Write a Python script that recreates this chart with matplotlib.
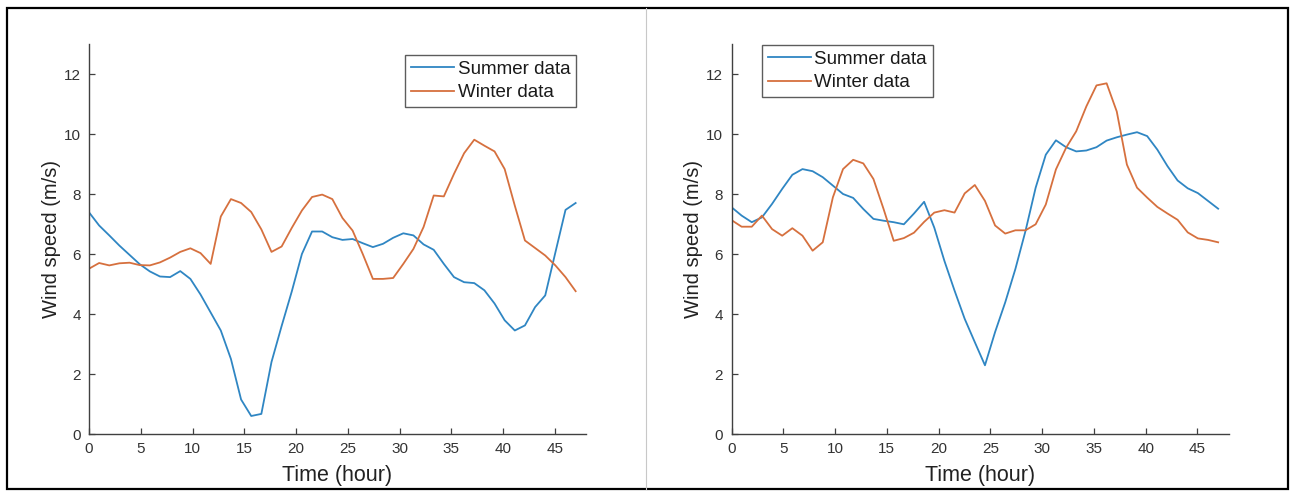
import numpy as np
import matplotlib
matplotlib.use("Agg")
import matplotlib.pyplot as plt
from matplotlib.patches import Rectangle
from matplotlib.lines import Line2D

plt.rcParams['font.family'] = ['Liberation Sans', 'DejaVu Sans']

# 49 samples over the 0-47 hour window
hours = np.linspace(0, 47, 49)

summer_a = [7.39, 6.95, 6.62, 6.28, 5.97, 5.66, 5.42, 5.25, 5.23, 5.43,
            5.17, 4.65, 4.05, 3.45, 2.50, 1.15, 0.60, 0.67, 2.40, 3.60,
            4.75, 6.00, 6.75, 6.75, 6.56, 6.47, 6.50, 6.36, 6.23, 6.34,
            6.54, 6.69, 6.62, 6.32, 6.14, 5.67, 5.23, 5.06, 5.03, 4.79,
            4.35, 3.79, 3.45, 3.62, 4.23, 4.62, 6.05, 7.47, 7.70]
winter_a = [5.51, 5.70, 5.62, 5.69, 5.71, 5.63, 5.62, 5.72, 5.88, 6.07,
            6.19, 6.03, 5.67, 7.25, 7.83, 7.70, 7.40, 6.82, 6.07, 6.25,
            6.87, 7.45, 7.90, 7.98, 7.83, 7.20, 6.78, 6.00, 5.17, 5.17,
            5.20, 5.67, 6.17, 6.90, 7.95, 7.92, 8.67, 9.36, 9.81, 9.61,
            9.42, 8.83, 7.61, 6.45, 6.20, 5.95, 5.62, 5.23, 4.76]

summer_b = [7.56, 7.28, 7.06, 7.22, 7.67, 8.17, 8.64, 8.83, 8.76, 8.56,
            8.28, 8.00, 7.87, 7.50, 7.17, 7.11, 7.06, 6.99, 7.35, 7.74,
            6.88, 5.77, 4.78, 3.84, 3.06, 2.29, 3.40, 4.39, 5.50, 6.77,
            8.21, 9.31, 9.79, 9.56, 9.42, 9.45, 9.56, 9.78, 9.89, 9.98,
            10.06, 9.93, 9.48, 8.93, 8.45, 8.19, 8.03, 7.77, 7.51]
winter_b = [7.13, 6.91, 6.91, 7.28, 6.83, 6.61, 6.86, 6.61, 6.11, 6.39,
            7.89, 8.83, 9.14, 9.02, 8.50, 7.50, 6.44, 6.53, 6.71, 7.07,
            7.38, 7.46, 7.38, 8.02, 8.30, 7.77, 6.95, 6.68, 6.79, 6.79,
            6.99, 7.65, 8.82, 9.54, 10.09, 10.92, 11.62, 11.69, 10.75, 8.98,
            8.21, 7.88, 7.57, 7.35, 7.14, 6.72, 6.52, 6.47, 6.39]

x_ticks = [0, 5, 10, 15, 20, 25, 30, 35, 40, 45]
y_ticks = [0, 2, 4, 6, 8, 10, 12]
series_names = ["Summer data", "Winter data"]

BLUE = "#2f86c3"
ORANGE = "#d6703e"
AXIS = "#404040"

W, H = 1295, 491
fig = plt.figure(figsize=(W / 100, H / 100), dpi=100)
fig.patch.set_facecolor("white")

# outer frame and panel divider
fig.patches.append(Rectangle((7 / W, 2 / H), 1281 / W, 481 / H, transform=fig.transFigure,
                             fill=False, edgecolor="black", linewidth=1.6))
fig.add_artist(Line2D([646 / W, 646 / W], [2 / H, 483 / H], transform=fig.transFigure,
                      color="#c8c8c8", linewidth=0.8))


def make_panel(left_px, summer, winter, legend_loc):
    ax = fig.add_axes([left_px / W, (H - 434) / H, 497 / W, 390 / H])
    ax.plot(hours, summer, color=BLUE, linewidth=1.3, label=series_names[0])
    ax.plot(hours, winter, color=ORANGE, linewidth=1.3, label=series_names[1])
    ax.set_xlim(0, 48)
    ax.set_ylim(0, 13)
    ax.set_xticks(x_ticks)
    ax.set_yticks(y_ticks)
    for side in ("top", "right"):
        ax.spines[side].set_visible(False)
    for side in ("left", "bottom"):
        ax.spines[side].set_color(AXIS)
        ax.spines[side].set_linewidth(1.0)
    ax.tick_params(direction="in", length=4, width=0.9, color=AXIS,
                   labelcolor="#333333", labelsize=11, pad=6)
    ax.set_xlabel("Time (hour)", fontsize=15.5, color="#222222", labelpad=6)
    ax.set_ylabel("Wind speed (m/s)", fontsize=14.5, color="#222222", labelpad=2)
    leg = ax.legend(loc="upper left", bbox_to_anchor=legend_loc, fontsize=13.5,
                    frameon=True, fancybox=False, handlelength=2.3, handletextpad=0.2,
                    borderpad=0.3, labelspacing=0.35, borderaxespad=0)
    leg.get_frame().set_edgecolor("#333333")
    leg.get_frame().set_linewidth(1.0)
    for t in leg.get_texts():
        t.set_color("#1a1a1a")
    return ax


# legend anchors in axes coordinates
make_panel(89, summer_a, winter_a, ((405 - 89) / 497, (434 - 55) / 390))
make_panel(731.5, summer_b, winter_b, ((762 - 731.5) / 497, (434 - 45) / 390))

fig.savefig("out.png", dpi=100)
